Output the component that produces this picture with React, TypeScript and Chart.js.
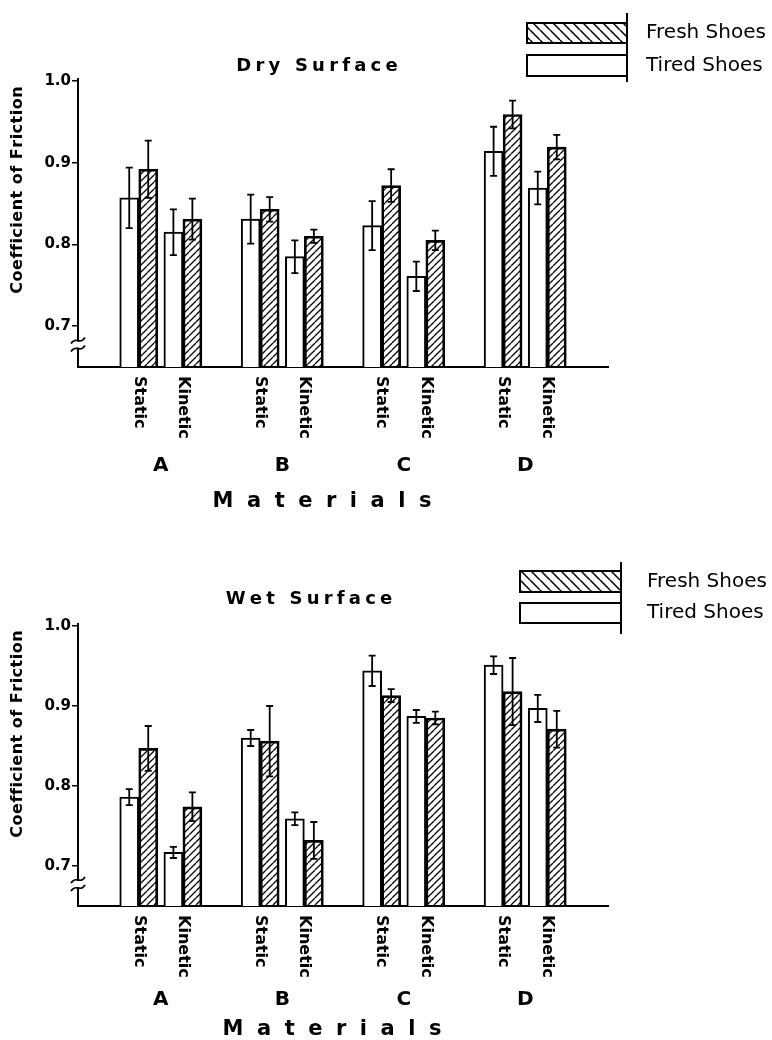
import React, { useEffect, useRef } from 'react';
import { Chart, registerables } from 'chart.js';

Chart.register(...registerables);

// ---------- data ----------
const MATERIALS = ['A', 'B', 'C', 'D'];
const FRICTION_TYPES = ['Static', 'Kinetic'];
const SERIES_NAMES = ['Fresh Shoes', 'Tired Shoes'];
const Y_TICKS = [0.7, 0.8, 0.9, 1.0];
const Y_MIN = 0.65;
const Y_MAX = 1.0;
const X_TITLE = 'Materials';
const Y_TITLE = 'Coefficient of Friction';
const DRY_TITLE = 'Dry Surface';
const WET_TITLE = 'Wet Surface';

// order: A-Static, A-Kinetic, B-Static, B-Kinetic, C-Static, C-Kinetic, D-Static, D-Kinetic
const DRY_TIRED = [0.857, 0.815, 0.831, 0.785, 0.823, 0.761, 0.914, 0.869];
const DRY_TIRED_ERR = [0.037, 0.028, 0.030, 0.020, 0.030, 0.018, 0.030, 0.020];
const DRY_FRESH = [0.892, 0.831, 0.843, 0.810, 0.872, 0.805, 0.959, 0.919];
const DRY_FRESH_ERR = [0.035, 0.025, 0.015, 0.008, 0.020, 0.012, 0.017, 0.015];

const WET_TIRED = [0.786, 0.717, 0.860, 0.759, 0.944, 0.887, 0.951, 0.897];
const WET_TIRED_ERR = [0.010, 0.007, 0.010, 0.008, 0.019, 0.008, 0.011, 0.017];
const WET_FRESH = [0.847, 0.774, 0.856, 0.732, 0.913, 0.885, 0.918, 0.871];
const WET_FRESH_ERR = [0.028, 0.018, 0.044, 0.023, 0.008, 0.008, 0.042, 0.023];

// ---------- layout (category slots) ----------
const SLOT_COUNT = 48;
const FIRST_SLOT = 5;
const GROUP_PITCH = 11;
const TYPE_GAP = 4;
const slotOf = (m: number, t: number) => FIRST_SLOT + m * GROUP_PITCH + t * TYPE_GAP;

function toSlots(values: number[]) {
  const arr: (number | null)[] = new Array(SLOT_COUNT).fill(null);
  values.forEach((v, i) => {
    arr[slotOf(Math.floor(i / 2), i % 2)] = v;
  });
  return arr;
}

const FONT = '"DejaVu Sans", sans-serif';

function makeHatch(ctx: CanvasRenderingContext2D, size: number, forward: boolean, lw: number) {
  const c = document.createElement('canvas');
  c.width = size;
  c.height = size;
  const g = c.getContext('2d')!;
  g.strokeStyle = '#000';
  g.lineWidth = lw;
  g.beginPath();
  for (let k = -1; k <= 1; k++) {
    if (forward) {
      g.moveTo(k * size, size);
      g.lineTo(k * size + size, 0);
    } else {
      g.moveTo(k * size, 0);
      g.lineTo(k * size + size, size);
    }
  }
  g.stroke();
  return ctx.createPattern(c, 'repeat')!;
}

function drawSpaced(ctx: CanvasRenderingContext2D, text: string, cx: number, cy: number, spacing: number) {
  const widths = Array.from(text).map((ch) => ctx.measureText(ch).width);
  const total = widths.reduce((a, b) => a + b, 0) + spacing * (widths.length - 1);
  let x = cx - total / 2;
  ctx.textAlign = 'left';
  ctx.textBaseline = 'middle';
  Array.from(text).forEach((ch, i) => {
    ctx.fillText(ch, x, cy);
    x += widths[i] + spacing;
  });
}

type PanelLayout = {
  top: number;
  bottom: number;
  titleX: number;
  titleY: number;
  yTitleY: number;
  letterDy: number;
  matDy: number;
  matX: number;
  legX0: number;
  legX1: number;
  legFresh: [number, number];
  legTired: [number, number];
  legLine: [number, number];
  legTextX: number;
};

type PanelProps = {
  title: string;
  tired: number[];
  tiredErr: number[];
  fresh: number[];
  freshErr: number[];
  layout: PanelLayout;
};

const W = 772;
const H = 520;

function Panel({ title, tired, tiredErr, fresh, freshErr, layout }: PanelProps) {
  const ref = useRef<HTMLCanvasElement | null>(null);

  useEffect(() => {
    const canvas = ref.current!;
    const ctx0 = canvas.getContext('2d')!;
    const barHatch = makeHatch(ctx0, 7, true, 1.3);
    const legendHatch = makeHatch(ctx0, 10, false, 1.5);
    const L = layout;

    const decor = {
      id: 'decor',
      afterDraw(chart: any) {
        const ctx: CanvasRenderingContext2D = chart.ctx;
        const xs = chart.scales.x;
        const ys = chart.scales.y;
        const area = chart.chartArea;
        ctx.save();
        ctx.fillStyle = '#000';
        ctx.strokeStyle = '#000';

        // y-axis line reaches a little above the top tick
        ctx.lineWidth = 2;
        ctx.beginPath();
        ctx.moveTo(area.left, area.top);
        ctx.lineTo(area.left, area.top - 3);
        ctx.stroke();

        // error bars
        chart.data.datasets.forEach((ds: any, di: number) => {
          const meta = chart.getDatasetMeta(di);
          meta.data.forEach((el: any, idx: number) => {
            const v = ds.data[idx];
            const e = ds.errorBars[idx];
            if (v == null || e == null) return;
            const x = el.x;
            const y1 = ys.getPixelForValue(v + e);
            const y2 = ys.getPixelForValue(v - e);
            ctx.lineWidth = 1.8;
            ctx.beginPath();
            ctx.moveTo(x, y1);
            ctx.lineTo(x, y2);
            ctx.moveTo(x - 3.5, y1);
            ctx.lineTo(x + 3.5, y1);
            ctx.moveTo(x - 3.5, y2);
            ctx.lineTo(x + 3.5, y2);
            ctx.stroke();
          });
        });

        // axis break
        const ax = area.left;
        const by = (ys.getPixelForValue(Y_TICKS[0]) + area.bottom) / 2 - 2;
        ctx.fillStyle = '#fff';
        ctx.fillRect(ax - 3, by - 3, 6, 6);
        ctx.fillStyle = '#000';
        ctx.lineWidth = 1.8;
        [-4, 4].forEach((dy) => {
          const y = by + dy;
          ctx.beginPath();
          ctx.moveTo(ax - 7, y + 3);
          ctx.bezierCurveTo(ax - 2, y - 5, ax + 2, y + 5, ax + 7, y - 3);
          ctx.stroke();
        });

        // category labels
        MATERIALS.forEach((mat, m) => {
          FRICTION_TYPES.forEach((ft, t) => {
            const x = xs.getPixelForValue(slotOf(m, t));
            ctx.save();
            ctx.translate(x, area.bottom + 9);
            ctx.rotate(Math.PI / 2);
            ctx.font = `bold 16px ${FONT}`;
            ctx.textAlign = 'left';
            ctx.textBaseline = 'middle';
            ctx.fillText(ft, 0, 0);
            ctx.restore();
          });
          const xc = (xs.getPixelForValue(slotOf(m, 0)) + xs.getPixelForValue(slotOf(m, 1))) / 2;
          ctx.font = `bold 20px ${FONT}`;
          ctx.textAlign = 'center';
          ctx.textBaseline = 'middle';
          ctx.fillText(mat, xc, area.bottom + L.letterDy);
        });

        // x title
        ctx.font = `bold 21px ${FONT}`;
        drawSpaced(ctx, X_TITLE, L.matX, area.bottom + L.matDy, 13.5);

        // chart title
        ctx.font = `bold 18px ${FONT}`;
        drawSpaced(ctx, title, L.titleX, L.titleY, 4.2);

        // y title
        ctx.save();
        ctx.translate(18, L.yTitleY);
        ctx.rotate(-Math.PI / 2);
        ctx.font = `bold 16px ${FONT}`;
        drawSpaced(ctx, Y_TITLE, 0, 0, 0.5);
        ctx.restore();

        // legend
        ctx.lineWidth = 2;
        const boxes: [string, [number, number], any][] = [
          [SERIES_NAMES[0], L.legFresh, legendHatch],
          [SERIES_NAMES[1], L.legTired, '#fff'],
        ];
        boxes.forEach(([name, [y0, y1], fill]) => {
          ctx.fillStyle = fill;
          ctx.fillRect(L.legX0, y0, L.legX1 - L.legX0, y1 - y0);
          ctx.strokeRect(L.legX0, y0, L.legX1 - L.legX0, y1 - y0);
          ctx.fillStyle = '#000';
          ctx.font = `20px ${FONT}`;
          ctx.textAlign = 'left';
          ctx.textBaseline = 'middle';
          ctx.fillText(name, L.legTextX, (y0 + y1) / 2);
        });
        ctx.beginPath();
        ctx.moveTo(L.legX1, L.legLine[0]);
        ctx.lineTo(L.legX1, L.legLine[1]);
        ctx.stroke();

        ctx.restore();
      },
    };

    const chart = new Chart(canvas, {
      type: 'bar',
      data: {
        labels: new Array(SLOT_COUNT).fill(''),
        datasets: [
          {
            label: SERIES_NAMES[1],
            data: toSlots(tired),
            errorBars: toSlots(tiredErr),
            backgroundColor: '#fff',
            borderColor: '#000',
            borderWidth: 2,
            barThickness: 19,
          } as any,
          {
            label: SERIES_NAMES[0],
            data: toSlots(fresh),
            errorBars: toSlots(freshErr),
            backgroundColor: barHatch,
            borderColor: '#000',
            borderWidth: 2,
            barThickness: 19,
          } as any,
        ],
      },
      options: {
        responsive: false,
        animation: false,
        devicePixelRatio: 1,
        layout: { padding: { left: 0, top: L.top, right: W - 608, bottom: H - L.bottom } },
        plugins: {
          legend: { display: false },
          title: { display: false },
          tooltip: { enabled: false },
        },
        scales: {
          x: {
            type: 'category',
            grid: { display: false },
            border: { display: true, color: '#000', width: 2 },
            ticks: { display: false },
            afterFit: (s: any) => {
              s.height = 0;
            },
          },
          y: {
            type: 'linear',
            min: Y_MIN,
            max: Y_MAX,
            afterBuildTicks: (s: any) => {
              s.ticks = Y_TICKS.map((v) => ({ value: v }));
            },
            afterFit: (s: any) => {
              s.width = 78;
            },
            grid: {
              display: true,
              drawOnChartArea: false,
              drawTicks: true,
              tickLength: 6,
              color: '#000',
              lineWidth: 1.5,
            },
            border: { display: true, color: '#000', width: 2 },
            ticks: {
              color: '#000',
              padding: 1,
              font: { family: FONT, size: 15, weight: 'bold' },
              callback: (v: any) => Number(v).toFixed(1),
            },
          },
        },
      } as any,
      plugins: [decor],
    });
    return () => chart.destroy();
  }, [title, tired, tiredErr, fresh, freshErr, layout]);

  return <canvas ref={ref} width={W} height={H} style={{ display: 'block', width: W, height: H }} />;
}

const DRY_LAYOUT: PanelLayout = {
  top: 81,
  bottom: 367,
  titleX: 317,
  titleY: 66,
  yTitleY: 190,
  letterDy: 99,
  matDy: 135,
  matX: 322,
  legX0: 527,
  legX1: 627,
  legFresh: [23, 43],
  legTired: [55, 76],
  legLine: [13, 82],
  legTextX: 646,
};

const WET_LAYOUT: PanelLayout = {
  top: 106,
  bottom: 386,
  titleX: 309,
  titleY: 79,
  yTitleY: 214,
  letterDy: 94,
  matDy: 124,
  matX: 332,
  legX0: 520,
  legX1: 621,
  legFresh: [51, 72],
  legTired: [83, 103],
  legLine: [42, 114],
  legTextX: 647,
};

export default function App() {
  return (
    <div style={{ position: 'absolute', left: 0, top: 0, width: W, height: 1040, background: '#fff' }}>
      <Panel
        title={DRY_TITLE}
        tired={DRY_TIRED}
        tiredErr={DRY_TIRED_ERR}
        fresh={DRY_FRESH}
        freshErr={DRY_FRESH_ERR}
        layout={DRY_LAYOUT}
      />
      <Panel
        title={WET_TITLE}
        tired={WET_TIRED}
        tiredErr={WET_TIRED_ERR}
        fresh={WET_FRESH}
        freshErr={WET_FRESH_ERR}
        layout={WET_LAYOUT}
      />
    </div>
  );
}
